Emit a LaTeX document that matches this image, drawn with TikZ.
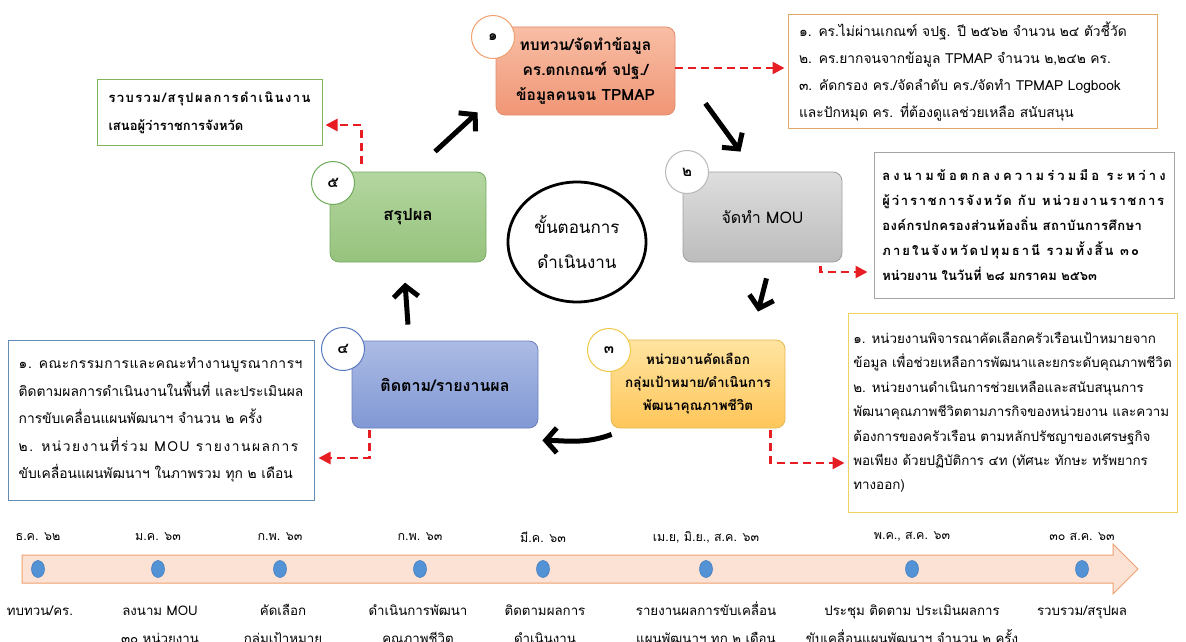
\documentclass[tikz,border=0pt]{standalone}
\usepackage{fontspec}
\setmainfont{Loma}[Script=Thai]
\usetikzlibrary{arrows.meta,calc,shapes.geometric}
\definecolor{b1t}{RGB}{248,190,165}\definecolor{b1b}{RGB}{240,150,118}\definecolor{b1d}{RGB}{225,140,110}
\definecolor{b2t}{RGB}{222,222,222}\definecolor{b2b}{RGB}{188,188,188}\definecolor{b2d}{RGB}{160,160,160}
\definecolor{b3t}{RGB}{255,228,160}\definecolor{b3b}{RGB}{255,198,90}\definecolor{b3d}{RGB}{230,185,80}
\definecolor{b4t}{RGB}{172,187,228}\definecolor{b4b}{RGB}{128,152,212}\definecolor{b4d}{RGB}{110,130,190}
\definecolor{b5t}{RGB}{180,214,160}\definecolor{b5b}{RGB}{150,195,125}\definecolor{b5d}{RGB}{120,170,100}
\definecolor{c1}{RGB}{240,160,110}\definecolor{c2}{RGB}{185,185,185}\definecolor{c3}{RGB}{240,200,70}
\definecolor{c4}{RGB}{90,120,190}\definecolor{c5}{RGB}{110,170,90}
\definecolor{r1}{RGB}{228,168,105}\definecolor{r2}{RGB}{165,165,165}\definecolor{r3}{RGB}{240,210,90}
\definecolor{r4}{RGB}{100,140,180}\definecolor{r5}{RGB}{130,180,90}
\definecolor{redc}{RGB}{230,30,35}
\definecolor{tlfill}{RGB}{251,226,213}\definecolor{tlline}{RGB}{240,160,110}
\definecolor{dotc}{RGB}{84,146,214}\definecolor{dotb}{RGB}{60,120,190}
\newcommand{\lsp}[2]{{\addfontfeature{LetterSpace=#1}#2}}
\begin{document}
\begin{tikzpicture}[x=1pt,y=-1pt,
  box/.style={rounded corners=9pt, line width=0.8pt, align=center, inner sep=0pt, font=\fontsize{15.5}{25}\selectfont\bfseries},
  num/.style={circle, draw, fill=white, minimum size=43pt, inner sep=0pt, line width=1pt, font=\fontsize{15}{15}\selectfont\bfseries},
  note/.style={draw, line width=1pt, align=left, inner sep=0pt, font=\fontsize{13}{27}\selectfont},
  redarr/.style={draw=redc, line width=2.6pt, dash pattern=on 8pt off 5pt, -{Triangle[length=12pt,width=12pt]}},
  blk/.style={line width=5pt, -{Straight Barb[length=11pt,width=25pt]}},
  dot/.style={ellipse, fill=dotc, draw=dotb, line width=0.5pt, minimum width=13pt, minimum height=17pt, inner sep=0pt},
  tl/.style={align=center, inner sep=0pt, font=\fontsize{12.5}{28}\selectfont},
  tlb/.style={align=center, inner sep=0pt, anchor=base, font=\fontsize{13.3}{28}\selectfont}]
\useasboundingbox (0,0) rectangle (1186,642);
\fill[white] (0,0) rectangle (1186,642);
% main boxes
\node[box, top color=b1t, bottom color=b1b, draw=b1d, minimum width=179pt, minimum height=88pt] (b1) at (585.5,71) {ทบทวน/จัดทำข้อมูล\\คร.ตกเกณฑ์ จปฐ./\\ข้อมูลคนจน TPMAP};
\node[box, top color=b2t, bottom color=b2b, draw=b2d, minimum width=159pt, minimum height=90pt, font=\fontsize{16}{24}\selectfont] (b2) at (762.5,217) {จัดทำ MOU};
\node[box, top color=b3t, bottom color=b3b, draw=b3d, minimum width=174pt, minimum height=88pt, font=\fontsize{13.5}{23}\selectfont\bfseries] (b3) at (698,384) {หน่วยงานคัดเลือก\\กลุ่มเป้าหมาย/ดำเนินการ\\พัฒนาคุณภาพชีวิต};
\node[box, top color=b4t, bottom color=b4b, draw=b4d, minimum width=186pt, minimum height=87pt, font=\fontsize{16}{24}\selectfont\bfseries] (b4) at (445,384.5) {ติดตาม/รายงานผล};
\node[box, top color=b5t, bottom color=b5b, draw=b5d, minimum width=156pt, minimum height=90pt, font=\fontsize{16.5}{24}\selectfont\bfseries] (b5) at (408,217) {สรุปผล};
% number circles
\node[num, draw=c1] (n1) at (493,37) {๑};
\node[num, draw=c2] (n2) at (687,172) {๒};
\node[num, draw=c3] (n3) at (609,350) {๓};
\node[num, draw=c4] (n4) at (343,349) {๔};
\node[num, draw=c5] (n5) at (333,183) {๕};
% centre
\node[ellipse, draw, line width=2.8pt, minimum width=138pt, minimum height=120pt, align=center, font=\fontsize{17}{35}\selectfont] (ctr) at (577,242) {ขั้นตอนการ\\ดำเนินงาน};
% notes
\node[note, draw=r1, minimum width=369pt, minimum height=113pt, text width=347pt, font=\fontsize{13.8}{27}\selectfont] (rb1) at (972.5,71.5) {๑. คร.ไม่ผ่านเกณฑ์ จปฐ. ปี ๒๕๖๒ จำนวน ๒๔ ตัวชี้วัด\\๒. คร.ยากจนจากข้อมูล TPMAP จำนวน ๒,๒๔๒ คร.\\๓. คัดกรอง คร./จัดลำดับ คร./จัดทำ TPMAP Logbook\\และปักหมุด คร. ที่ต้องดูแลช่วยเหลือ สนับสนุน};
\node[note, draw=r2, minimum width=300pt, minimum height=146pt, font=\fontsize{13}{24.8}\selectfont\bfseries] (rb2) at (1024,225) {\lsp{24}{ลงนามข้อตกลงความร่วมมือ ระหว่าง}\\\lsp{14}{ผู้ว่าราชการจังหวัด กับ หน่วยงานราชการ}\\\lsp{3.5}{องค์กรปกครองส่วนท้องถิ่น สถาบันการศึกษา}\\\lsp{16}{ภายในจังหวัดปทุมธานี รวมทั้งสิ้น ๓๐}\\หน่วยงาน ในวันที่ ๒๘ มกราคม ๒๕๖๓};
\node[note, draw=r3, minimum width=329pt, minimum height=199pt, font=\fontsize{13.4}{24.4}\selectfont] (rb3) at (1012.5,412.5) {๑. หน่วยงานพิจารณาคัดเลือกครัวเรือนเป้าหมายจาก\\ข้อมูล เพื่อช่วยเหลือการพัฒนาและยกระดับคุณภาพชีวิต\\๒. หน่วยงานดำเนินการช่วยเหลือและสนับสนุนการ\\พัฒนาคุณภาพชีวิตตามภารกิจของหน่วยงาน และความ\\ต้องการของครัวเรือน ตามหลักปรัชญาของเศรษฐกิจ\\พอเพียง ด้วยปฏิบัติการ ๔ท (ทัศนะ ทักษะ ทรัพยากร\\ทางออก)};
\node[note, draw=r4, minimum width=306pt, minimum height=160pt, font=\fontsize{13.8}{27.5}\selectfont] (lb4) at (161,420) {\lsp{4}{๑. คณะกรรมการและคณะทำงานบูรณาการฯ}\\ติดตามผลการดำเนินงานในพื้นที่ และประเมินผล\\การขับเคลื่อนแผนพัฒนาฯ จำนวน ๒ ครั้ง\\\lsp{11}{๒. หน่วยงานที่ร่วม MOU รายงานผลการ}\\ขับเคลื่อนแผนพัฒนาฯ ในภาพรวม ทุก ๒ เดือน};
\node[note, draw=r5, minimum width=225pt, minimum height=65pt, font=\fontsize{13}{28}\selectfont\bfseries] (lb5) at (209.5,112.5) {\lsp{11}{รวบรวม/สรุปผลการดำเนินงาน}\\เสนอผู้ว่าราชการจังหวัด};
% red dashed connectors
\draw[redarr] (b1.east |- 0,68) -- ($(rb1.west |- 0,68)+(-3,0)$);
\draw[redarr] ($(b2.south east)+(-22,4)$) |- ($(rb2.west |- 0,272)+(-6,0)$);
\draw[redarr] ($(b3.south east)+(-15,2)$) |- ($(rb3.west |- 0,463)+(-3,0)$);
\draw[redarr] ($(b4.south west)+(18,2)$) |- ($(lb4.east |- 0,458)+(4,0)$);
\draw[redarr] ($(b5.north west)+(32,-8)$) |- ($(lb5.east |- 0,125)+(3,0)$);
% black flow arrows
\draw[blk] ($(b5.north)+(27,-20)$) -- ($(b1.south west)+(-18,-3)$);
\draw[blk] ($(b1.south east)+(30,-12)$) -- ($(b2.north)+(-22,-20)$);
\draw[blk] ($(b2.south)+(4,16)$) -- ($(b3.north)+(60,-28)$);
\draw[blk] ($(b3.south west)+(1,6)$) .. controls ($(b3.south west)+(-25,16)$) and ($(b4.south east)+(25,12)$) .. ($(b4.south east)+(4,12)$);
\draw[blk] ($(b4.north)+(-37,-16)$) -- ($(b4.north)+(-40,-58)$);
% timeline
\draw[fill=tlfill, draw=tlline, line width=1pt] (22,555) -- (1113,555) -- (1113,544) -- (1138,569) -- (1113,594) -- (1113,583) -- (22,583) -- cycle;
\node[dot] (d1) at (38,569) {};
\node[dot] (d2) at (158,569) {};
\node[dot] (d3) at (280,569) {};
\node[dot] (d4) at (420,569) {};
\node[dot] (d5) at (543,569) {};
\node[dot] (d6) at (706,569) {};
\node[dot] (d7) at (912,569) {};
\node[dot] (d8) at (1082,569) {};
\node[tl] (t1) at (38,537) {ธ.ค. ๖๒};
\node[tl] (t2) at (158,537) {ม.ค. ๖๓};
\node[tl] (t3) at (280,537) {ก.พ. ๖๓};
\node[tl] (t4) at (420,537) {ก.พ. ๖๓};
\node[tl] (t5) at (543,537) {มี.ค. ๖๓};
\node[tl] (t6) at (706,537) {เม.ย, มิ.ย., ส.ค. ๖๓};
\node[tl] (t7) at (912,537) {พ.ค., ส.ค. ๖๓};
\node[tl] (t8) at (1082,537) {๓๐ ส.ค. ๖๓};
\node[tlb] (l1) at (40,615) {ทบทวน/คร.};
\node[tlb] (l2) at (160,643) {ลงนาม MOU\\๓๐ หน่วยงาน};
\node[tlb] (l3) at (283,643) {คัดเลือก\\กลุ่มเป้าหมาย};
\node[tlb] (l4) at (418,643) {ดำเนินการพัฒนา\\คุณภาพชีวิต};
\node[tlb] (l5) at (545,643) {ติดตามผลการ\\ดำเนินงาน};
\node[tlb] (l6) at (706,643) {รายงานผลการขับเคลื่อน\\แผนพัฒนาฯ ทุก ๒ เดือน};
\node[tlb] (l7) at (912,643) {ประชุม ติดตาม ประเมินผลการ\\ขับเคลื่อนแผนพัฒนาฯ จำนวน ๒ ครั้ง};
\node[tlb] (l8) at (1082,615) {รวบรวม/สรุปผล};
\end{tikzpicture}
\end{document}
